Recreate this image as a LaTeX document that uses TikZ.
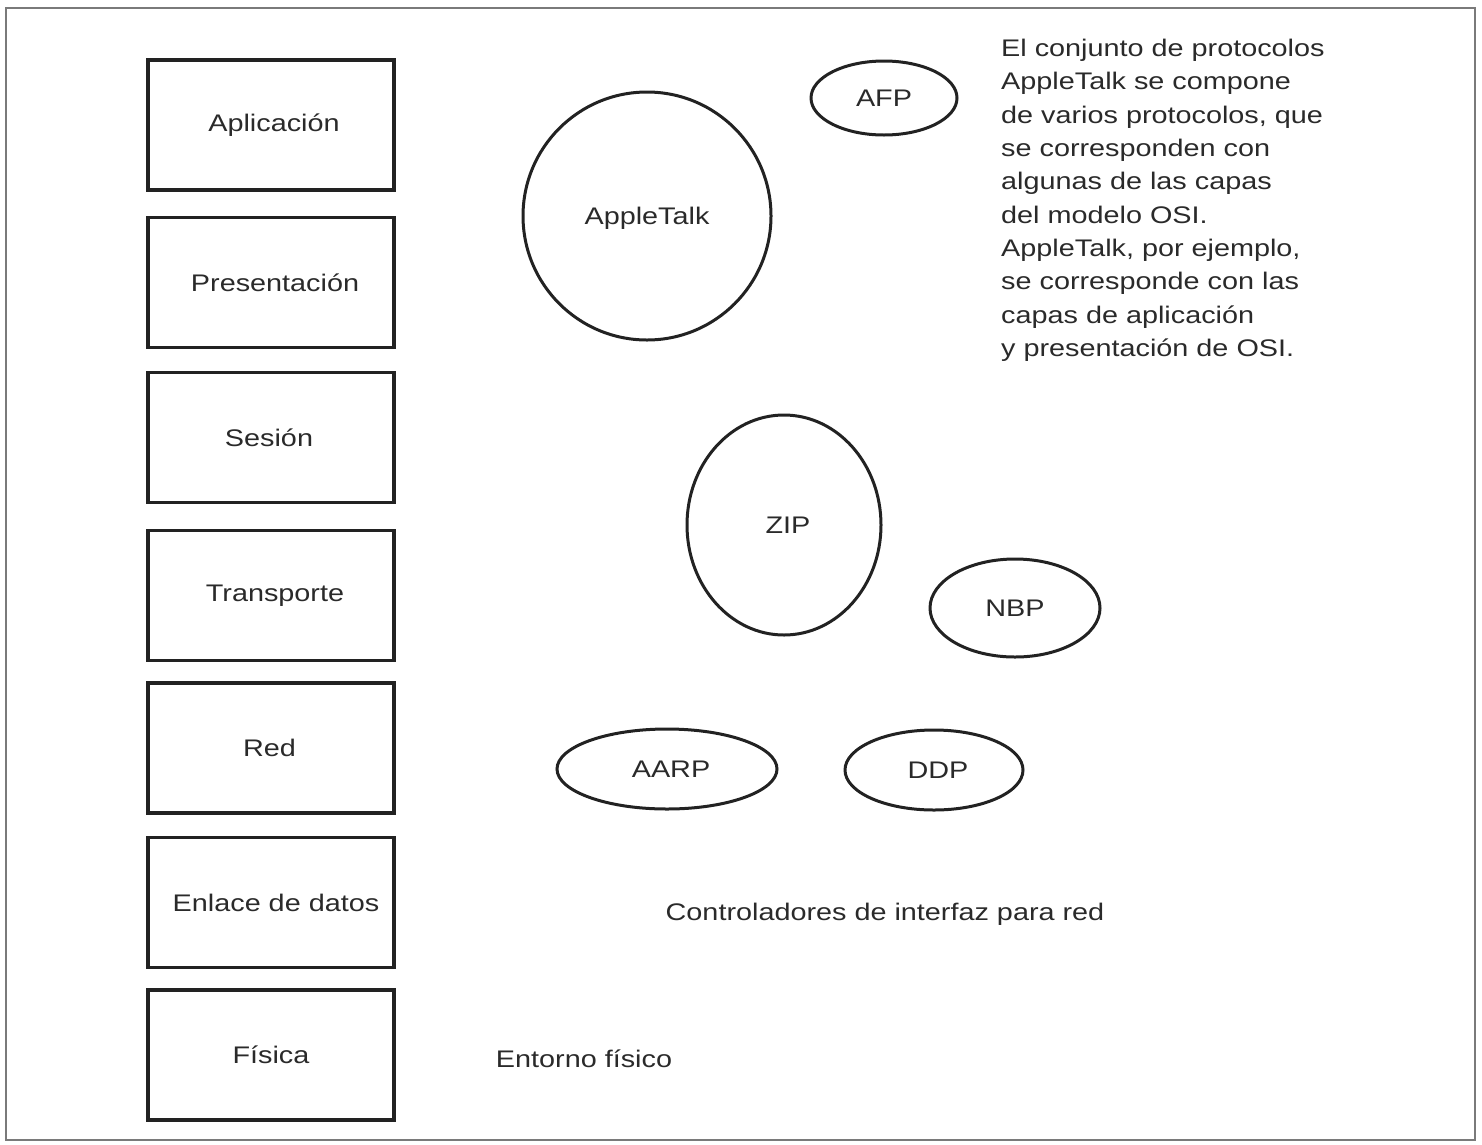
\documentclass[tikz,border=0pt]{standalone}
\usepackage{fontspec}
\setmainfont{Liberation Sans}[FakeStretch=1.2]
\usetikzlibrary{shapes.geometric}
\definecolor{ink}{HTML}{222222}
\definecolor{txt}{HTML}{2A2A2A}
\definecolor{frame}{HTML}{7A7A7A}
\begin{document}
\begin{tikzpicture}[x=1pt,y=-1pt,
  every node/.style={font=\fontsize{24}{33.3}\selectfont, text=txt},
  layer/.style={draw=ink, line width=3.3pt, rectangle, minimum width=246pt, minimum height=130pt, inner sep=0pt, outer sep=0pt},
  proto/.style={draw=ink, line width=3pt, ellipse, inner sep=0pt, outer sep=0pt, text height=17pt, text depth=0pt},
  plain/.style={inner sep=0pt, text height=17pt, text depth=0pt}
]
\useasboundingbox (0,0) rectangle (1482,1144);
\draw[frame, line width=1.5pt] (6,8) rectangle (1475,1140);

% OSI layers
\node[layer] (apl) at (271,125)   {\hspace*{6pt}Aplicación};
\node[layer] (pre) at (271,282.5) {\hspace*{8pt}Presentación};
\node[layer] (ses) at (271,437.5) {Sesión\hspace*{4pt}};
\node[layer] (tra) at (271,595.5) {\hspace*{8pt}Transporte};
\node[layer] (red) at (271,748)   {Red\hspace*{3pt}};
\node[layer] (enl) at (271,902.5) {\hspace*{10pt}Enlace de datos};
\node[layer] (fis) at (271,1055)  {Física};

% protocols
\node[proto, minimum width=146pt, minimum height=74pt]  (afp)  at (884,98)  {AFP};
\node[proto, minimum width=248pt, minimum height=248pt] (atk)  at (647,216) {AppleTalk};
\node[proto, minimum width=194pt, minimum height=220pt] (zip)  at (784,525) {\hspace*{8pt}ZIP};
\node[proto, minimum width=170pt, minimum height=98pt]  (nbp)  at (1015,608) {NBP};
\node[proto, minimum width=220pt, minimum height=80pt]  (aarp) at (667,769) {\hspace*{8pt}AARP};
\node[proto, minimum width=178pt, minimum height=80pt]  (ddp)  at (934,770) {\hspace*{8pt}DDP};

% free texts
\node[plain] (ctrl) at (885,912) {Controladores de interfaz para red};
\node[plain] (ent)  at (584,1059) {Entorno físico};

\node[inner sep=0pt, anchor=north west, align=left] (desc) at (1001,39)
 {El conjunto de protocolos\\
  AppleTalk se compone\\
  de varios protocolos, que\\
  se corresponden con\\
  algunas de las capas\\
  del modelo OSI.\\
  AppleTalk, por ejemplo,\\
  se corresponde con las\\
  capas de aplicación\\
  y presentación de OSI.};
\end{tikzpicture}
\end{document}
